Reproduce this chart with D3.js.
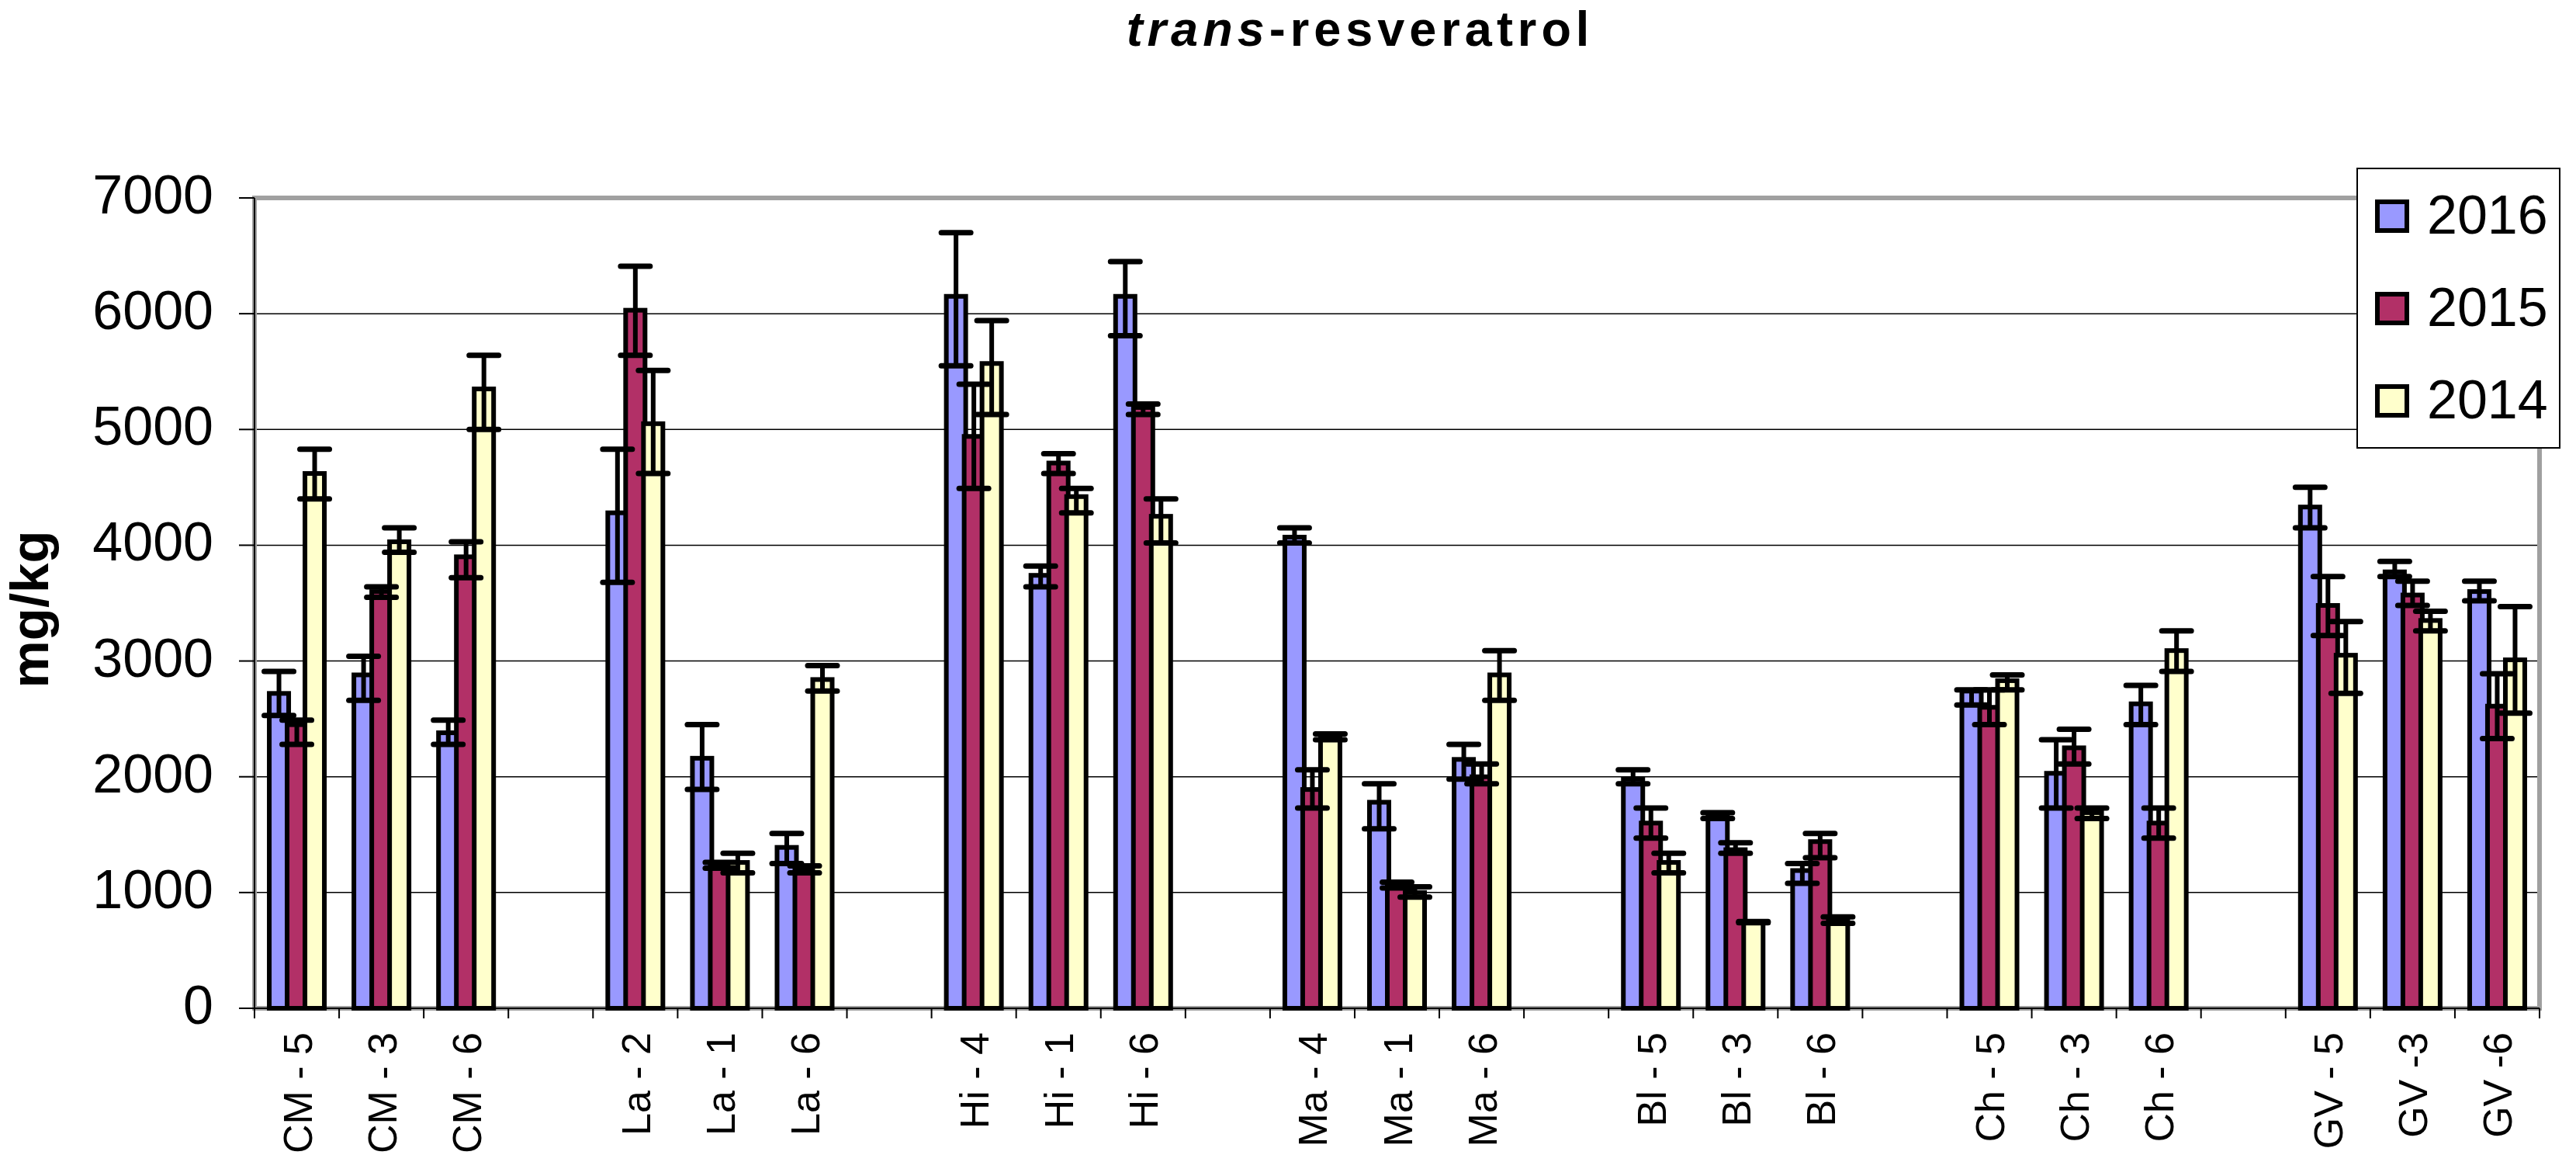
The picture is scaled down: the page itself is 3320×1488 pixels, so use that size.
<!DOCTYPE html>
<html>

<head>
    <title>trans-resveratrol</title>
    <script src="https://d3js.org/d3.v7.min.js"></script>
    <style>
        body { margin: 0; background: #fff; }
        text { font-family: "Liberation Sans", Arial, sans-serif; fill: #000; }
    </style>
</head>

<body>
    <svg width="3320" height="1488" id="mainsvg"></svg>
    <script>
        // categories, "" = empty slot between groups
        const categories = ['CM - 5', 'CM - 3', 'CM - 6', '',
            'La - 2', 'La - 1', 'La - 6', '',
            'Hi - 4', 'Hi - 1', 'Hi - 6', '',
            'Ma - 4', 'Ma - 1', 'Ma - 6', '',
            'Bl - 5', 'Bl - 3', 'Bl - 6', '',
            'Ch - 5', 'Ch - 3', 'Ch - 6', '',
            'GV - 5', 'GV -3', 'GV -6'];
        const years = ['2016', '2015', '2014'];
        const yTicks = [0, 1000, 2000, 3000, 4000, 5000, 6000, 7000];

        // values per year (null = empty slot)
        const v2016 = [2720, 2880, 2380, null, 4280, 2160, 1390, null, 6150, 3740, 6150, null,
            4070, 1780, 2150, null, 1980, 1660, 1190, null, 2740, 2030, 2630, null, 4330, 3770, 3600];
        const lo2016 = [2530, 2660, 2280, null, 3680, 1890, 1250, null, 5550, 3640, 5810, null,
            4020, 1550, 1980, null, 1940, 1640, 1080, null, 2620, 1730, 2450, null, 4150, 3730, 3520];
        const hi2016 = [2910, 3040, 2490, null, 4830, 2450, 1510, null, 6700, 3820, 6450, null,
            4150, 1940, 2280, null, 2060, 1690, 1250, null, 2750, 2320, 2790, null, 4500, 3860, 3690];

        const v2015 = [2450, 3600, 3900, null, 6030, 1250, 1200, null, 4940, 4710, 5190, null,
            1890, 1050, 2000, null, 1600, 1370, 1440, null, 2600, 2250, 1600, null, 3480, 3570, 2610];
        const lo2015 = [2280, 3550, 3720, null, 5640, 1210, 1170, null, 4490, 4620, 5130, null,
            1730, 1040, 1940, null, 1470, 1340, 1300, null, 2450, 2110, 1470, null, 3220, 3480, 2330];
        const hi2015 = [2490, 3640, 4030, null, 6410, 1260, 1230, null, 5390, 4790, 5220, null,
            2060, 1090, 2110, null, 1730, 1430, 1510, null, 2750, 2410, 1730, null, 3730, 3690, 2890];

        const v2014 = [4620, 4030, 5350, null, 5050, 1260, 2840, null, 5570, 4420, 4250, null,
            2340, 1000, 2880, null, 1260, 745, 760, null, 2830, 1690, 3090, null, 3050, 3350, 3010];
        const lo2014 = [4400, 3940, 5000, null, 4620, 1170, 2740, null, 5130, 4280, 4020, null,
            2320, 960, 2660, null, 1170, 740, 735, null, 2750, 1640, 2910, null, 2720, 3260, 2550];
        const hi2014 = [4830, 4150, 5640, null, 5510, 1340, 2960, null, 5940, 4490, 4400, null,
            2370, 1050, 3090, null, 1340, 750, 790, null, 2880, 1730, 3260, null, 3340, 3430, 3470];

        const colors = ['#9999ff', '#b23067', '#ffffcc'];

        const series = [
            { year: '2016', v: v2016, lo: lo2016, hi: hi2016 },
            { year: '2015', v: v2015, lo: lo2015, hi: hi2015 },
            { year: '2014', v: v2014, lo: lo2014, hi: hi2014 }
        ];

        const svg = d3.select('#mainsvg');
        const plot = { left: 328, right: 3273, top: 255, bottom: 1299 };

        const x = d3.scaleBand()
            .domain(d3.range(categories.length))
            .range([plot.left, plot.right]);
        const xSub = d3.scalePoint()
            .domain(years)
            .range([-23, 23]);
        const y = d3.scaleLinear()
            .domain([0, 7000])
            .range([plot.bottom, plot.top]);
        const color = d3.scaleOrdinal().domain(years).range(colors);
        const barW = 25; // + 6px outline

        // gridlines
        svg.append('g').selectAll('line').data(yTicks.filter(d => d > 0 && d < 7000))
            .enter().append('line')
            .attr('x1', plot.left).attr('x2', plot.right)
            .attr('y1', d => y(d)).attr('y2', d => y(d))
            .attr('stroke', '#000').attr('stroke-width', 1.5);

        // plot area border
        svg.append('rect')
            .attr('x', plot.left).attr('y', plot.top)
            .attr('width', plot.right - plot.left).attr('height', plot.bottom - plot.top)
            .attr('fill', 'none').attr('stroke', '#a0a0a0').attr('stroke-width', 6);

        // bars
        series.forEach(s => {
            const pts = s.v.map((d, i) => ({ i: i, v: d, lo: s.lo[i], hi: s.hi[i] })).filter(d => d.v != null);
            svg.append('g').selectAll('rect').data(pts)
                .enter().append('rect')
                .attr('x', d => x(d.i) + x.bandwidth() / 2 + xSub(s.year) - barW / 2)
                .attr('y', d => y(d.v))
                .attr('width', barW)
                .attr('height', d => y(0) - y(d.v))
                .attr('fill', color(s.year))
                .attr('stroke', '#000')
                .attr('stroke-width', 6);
        });

        // error bars on top
        series.forEach(s => {
            const pts = s.v.map((d, i) => ({ i: i, v: d, lo: s.lo[i], hi: s.hi[i] })).filter(d => d.v != null);
            const cx = d => x(d.i) + x.bandwidth() / 2 + xSub(s.year);
            const g = svg.append('g').attr('stroke', '#000');
            g.selectAll('.stem').data(pts).enter().append('line')
                .attr('x1', cx).attr('x2', cx)
                .attr('y1', d => y(d.lo)).attr('y2', d => y(d.hi))
                .attr('stroke-width', 6);
            ['lo', 'hi'].forEach(k => {
                g.selectAll('.cap' + k).data(pts).enter().append('line')
                    .attr('x1', d => cx(d) - 19).attr('x2', d => cx(d) + 19)
                    .attr('y1', d => y(d[k])).attr('y2', d => y(d[k]))
                    .attr('stroke-width', 7)
                    .attr('stroke-linecap', 'round');
            });
        });

        // y axis
        const yAxis = svg.append('g');
        yAxis.append('line')
            .attr('x1', plot.left).attr('x2', plot.left)
            .attr('y1', plot.top).attr('y2', plot.bottom)
            .attr('stroke', '#000').attr('stroke-width', 2);
        yAxis.selectAll('.tick').data(yTicks).enter().append('line')
            .attr('x1', plot.left - 20).attr('x2', plot.left)
            .attr('y1', d => y(d)).attr('y2', d => y(d))
            .attr('stroke', '#000').attr('stroke-width', 2);
        yAxis.selectAll('text').data(yTicks).enter().append('text')
            .attr('x', 275)
            .attr('y', d => y(d) + 20)
            .attr('text-anchor', 'end')
            .attr('font-size', 70)
            .text(d => d);

        // x axis
        const xAxis = svg.append('g');
        xAxis.append('line')
            .attr('x1', plot.left).attr('x2', plot.right)
            .attr('y1', plot.bottom).attr('y2', plot.bottom)
            .attr('stroke', '#000').attr('stroke-width', 2);
        xAxis.selectAll('.tick').data(d3.range(categories.length + 1)).enter().append('line')
            .attr('x1', d => plot.left + d * x.step()).attr('x2', d => plot.left + d * x.step())
            .attr('y1', plot.bottom).attr('y2', plot.bottom + 13)
            .attr('stroke', '#000').attr('stroke-width', 2);
        xAxis.selectAll('text').data(d3.range(categories.length).filter(i => categories[i] !== ''))
            .enter().append('text')
            .attr('transform', i => `translate(${x(i) + x.bandwidth() / 2 + 19},1330) rotate(-90)`)
            .attr('text-anchor', 'end')
            .attr('font-size', 52)
            .text(i => categories[i]);

        // y title
        svg.append('text')
            .attr('transform', 'translate(62,785) rotate(-90)')
            .attr('text-anchor', 'middle')
            .attr('font-size', 69)
            .attr('font-weight', 'bold')
            .text('mg/kg');

        // title
        const title = svg.append('text')
            .attr('x', 1753).attr('y', 59)
            .attr('text-anchor', 'middle')
            .attr('font-size', 63)
            .attr('font-weight', 'bold')
            .attr('letter-spacing', 6);
        title.append('tspan').attr('font-style', 'italic').text('trans');
        title.append('tspan').text('-resveratrol');

        // legend
        const legend = svg.append('g');
        legend.append('rect')
            .attr('x', 3038).attr('y', 217).attr('width', 261).attr('height', 360)
            .attr('fill', '#fff').attr('stroke', '#000').attr('stroke-width', 2);
        const rows = legend.selectAll('.row').data(years).enter().append('g')
            .attr('transform', (d, i) => `translate(0,${279 + i * 119})`);
        rows.append('rect')
            .attr('x', 3064).attr('y', -19).attr('width', 38).attr('height', 37)
            .attr('fill', d => color(d))
            .attr('stroke', '#000').attr('stroke-width', 6);
        rows.append('text')
            .attr('x', 3128).attr('y', 22)
            .attr('font-size', 70)
            .text(d => d);
    </script>
</body>

</html>
